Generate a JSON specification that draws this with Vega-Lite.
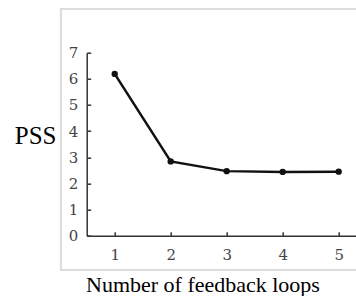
{
  "$schema": "https://vega.github.io/schema/vega-lite/v6.json",
  "autosize": {"type": "none"},
  "padding": {"left": 86.7, "top": 52.7, "right": 0, "bottom": 60.3},
  "width": 280,
  "height": 183,
  "background": "white",
  "config": {
    "view": {"stroke": null},
    "axisX": {
      "grid": false, "labelOverlap": false,
      "titleFont": "Liberation Serif", "titleFontSize": 22, "titleFontWeight": "normal", "titleColor": "#000",
      "titleX": 115.8, "titleY": 56, "titleAlign": "center", "titleBaseline": "alphabetic",
      "domainColor": "#333", "domainWidth": 1.5,
      "tickColor": "#333", "tickWidth": 1.5, "tickSize": -4,
      "labelFont": "DejaVu Serif", "labelFontSize": 15, "labelColor": "#444",
      "labelPadding": 16
    },
    "axisY": {
      "grid": false, "labelOverlap": false, "titleAngle": 0,
      "titleFont": "Liberation Serif", "titleFontSize": 25, "titleFontWeight": "normal", "titleColor": "#000",
      "titleX": -30.7, "titleY": 83, "titleAlign": "right", "titleBaseline": "middle",
      "domainColor": "#333", "domainWidth": 1.5,
      "tickColor": "#333", "tickWidth": 1.5, "tickSize": -4,
      "labelFont": "DejaVu Serif", "labelFontSize": 15, "labelColor": "#444",
      "labelPadding": 13
    }
  },
  "data": {"values": [
    {"loops": 1, "pss": 6.19},
    {"loops": 2, "pss": 2.84},
    {"loops": 3, "pss": 2.47},
    {"loops": 4, "pss": 2.44},
    {"loops": 5, "pss": 2.45}
  ]},
  "layer": [
    {
      "mark": {"type": "line", "color": "#111", "strokeWidth": 2.5, "point": {"filled": true, "color": "#111", "size": 40}},
      "encoding": {
        "x": {
          "field": "loops", "type": "quantitative",
          "scale": {"domain": [0.5, 5.5], "nice": false, "zero": false},
          "axis": {"values": [1, 2, 3, 4, 5], "title": "Number of feedback loops"}
        },
        "y": {
          "field": "pss", "type": "quantitative",
          "scale": {"domain": [0, 7], "nice": false},
          "axis": {"values": [0, 1, 2, 3, 4, 5, 6, 7], "title": "PSS"}
        }
      }
    },
    {
      "mark": {"type": "rect", "fill": null, "stroke": "#dcdcdc", "strokeWidth": 1.5, "clip": false},
      "encoding": {
        "x": {"datum": 0.036, "type": "quantitative", "axis": {"values": [1, 2, 3, 4, 5], "title": "Number of feedback loops"}},
        "x2": {"datum": 6},
        "y": {"datum": -1.31, "type": "quantitative", "axis": {"values": [0, 1, 2, 3, 4, 5, 6, 7], "title": "PSS"}},
        "y2": {"datum": 8.67}
      }
    }
  ]
}
